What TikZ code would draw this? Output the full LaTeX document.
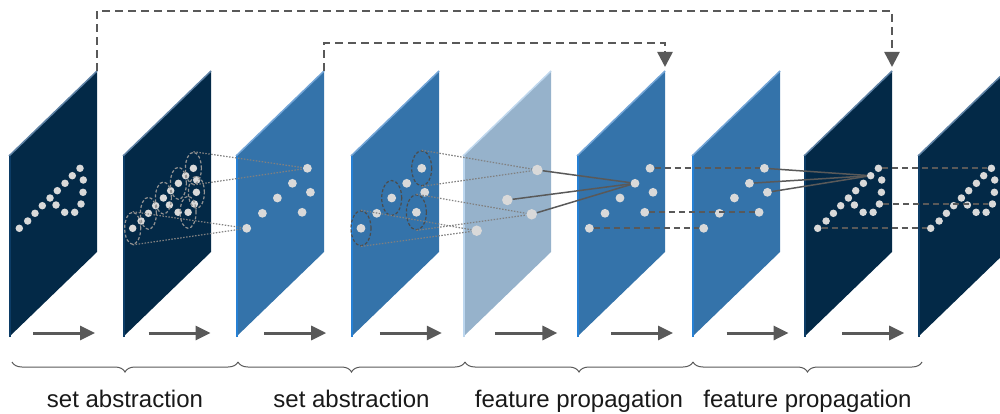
\documentclass[tikz,border=0pt]{standalone}
\usepackage{fontspec}
\setmainfont{Liberation Sans}
\usetikzlibrary{positioning}
\usetikzlibrary{arrows.meta}
\usetikzlibrary{shapes.geometric}
\usetikzlibrary{decorations.pathreplacing}
\definecolor{navy}{RGB}{3,41,71}
\definecolor{navyedge}{RGB}{12,60,102}
\definecolor{navytop}{RGB}{95,130,165}
\definecolor{steel}{RGB}{52,115,170}
\definecolor{steeledge}{RGB}{38,128,212}
\definecolor{steeltop}{RGB}{115,165,215}
\definecolor{pale}{RGB}{150,178,203}
\definecolor{paleedge}{RGB}{188,214,238}
\definecolor{paletop}{RGB}{192,216,238}
\definecolor{pointgray}{RGB}{217,217,217}
\definecolor{wiregray}{RGB}{89,89,89}
\tikzset{
  layer/.pic = {
    \fill[#1] (0,156) -- (88,71) -- (88,252) -- (0,337) -- cycle;
    \draw[#1top, line width=1.5pt] (0,156) -- (88,71);
    \draw[#1edge, line width=2pt] (1,156) -- (1,337);
    \coordinate (-tr) at (88,71);
  },
  featpt/.style = {
    circle,
    fill = pointgray,
    inner sep = 0pt,
    minimum size = #1
  },
  fullcloud/.pic = {
    \foreach \px/\py [count=\i from 0] in {0/228.3, 8.4/221, 15.7/213.3,
      23/205.7, 30.7/198, 38/190.7, 45.7/183.3, 53/175.7, 60.7/168.3,
      64/180, 63.7/192.3, 61.7/204, 55.4/212.3, 45.4/212.3, 36.7/205}
      \node[featpt=7.5pt] (-d\i) at (\px,\py) {};
  },
  subcloud/.pic = {
    \foreach \i/\px/\py in {0/0/228.3, 2/15.7/213.3, 4/30.7/198,
      6/45.7/183.3, 8/60.7/168.3, 10/63.7/192.3, 12/55.4/212.3}
      \node[featpt=8.8pt] (-d\i) at (\px,\py) {};
  },
  grp/.style = {
    ellipse,
    draw = #1,
    line width = 1.2pt,
    dash pattern = on 3pt off 2pt,
    inner sep = 0pt,
    minimum width = 16pt,
    minimum height = 32pt
  },
  gather/.style = {
    line width = 1.2pt,
    color = gray,
    dash pattern = on 1.5pt off 1.5pt
  },
  interp/.style = {
    line width = 1.5pt,
    color = wiregray
  },
  skiplink/.style = {
    line width = 1.7pt,
    color = wiregray,
    dash pattern = on 6pt off 4pt
  },
  shortcut/.style = {
    -{Triangle[length=15pt,width=15pt]},
    line width = 2.5pt,
    color = wiregray,
    dash pattern = on 8pt off 5pt,
    shorten > = 4pt
  },
  flow/.style = {
    -{Triangle[length=15pt,width=14pt]},
    line width = 3pt,
    color = wiregray
  },
  bracket/.style = {
    decorate,
    decoration = {brace, mirror, amplitude=10pt},
    line width = 1pt,
    color = wiregray
  },
  caption/.style = {
    font = \fontsize{24pt}{28pt}\selectfont,
    inner sep = 0pt,
    text = black!90
  }
}
\begin{document}
\begin{tikzpicture}[x=1pt,y=-1pt]
  \useasboundingbox (0,0) rectangle (1000,414);
  \clip (0,0) rectangle (1000,414);

  \pic (L1) at (9,0) {layer=navy};
  \pic (L2) at (123,0) {layer=navy};
  \pic (L3) at (236,0) {layer=steel};
  \pic (L4) at (351,0) {layer=steel};
  \pic (L5) at (463,0) {layer=pale};
  \pic (L6) at (577,0) {layer=steel};
  \pic (L7) at (692,0) {layer=steel};
  \pic (L8) at (804,0) {layer=navy};
  \pic (L9) at (918,0) {layer=navy};

  \pic (D1) at (19.3,0) {fullcloud};
  \pic (D2) at (132.7,0) {fullcloud};
  \pic (D3) at (246.7,0) {subcloud};
  \pic (D4) at (361,0) {subcloud};
  \node[featpt=10.5pt] (D5-d0) at (476.7,230.7) {};
  \node[featpt=10.5pt] (D5-d4) at (507.3,200) {};
  \node[featpt=10.5pt] (D5-d12) at (531.7,214.3) {};
  \node[featpt=10.5pt] (D5-d8) at (537.3,170) {};
  \pic (D6) at (589.3,0) {subcloud};
  \pic (D7) at (703.7,0) {subcloud};
  \pic (D8) at (817.7,0) {fullcloud};
  \pic (D9) at (930.7,0) {fullcloud};

  \foreach \i in {0,2,...,12}
    \node[grp=gray!85] (g2-\i) at (D2-d\i) {};
  \foreach \i in {0,4,8,12}
    \node[grp=black!70, minimum width=20pt, minimum height=35pt] (g4-\i) at (D4-d\i) {};

  \draw[gather] (g2-8.north) -- (D3-d8);
  \draw[gather] (g2-8.south) -- (D3-d8);
  \draw[gather] (g2-0.north) -- (D3-d0);
  \draw[gather] (g2-0.south) -- (D3-d0);
  \draw[gather] (g4-8.north) -- (D5-d8);
  \draw[gather] (g4-8.south) -- (D5-d8);
  \draw[gather] (g4-12.north) -- (D5-d12);
  \draw[gather] (g4-12.south) -- (D5-d12);
  \draw[gather] (g4-0.north) -- (D5-d0);
  \draw[gather] (g4-0.south) -- (D5-d0);

  \foreach \s in {8,4,12}
    \draw[interp] (D5-d\s) -- (D6-d6);
  \foreach \s in {8,6,10}
    \draw[interp] (D7-d\s) -- (D8-d7);
  \foreach \s in {8,12,0}
    \draw[skiplink] (D6-d\s) -- (D7-d\s);
  \foreach \s in {8,11,0}
    \draw[skiplink] (D8-d\s) -- (D9-d\s);

  \draw[shortcut] (L1-tr) -- ++(0,-60) -| (L8-tr);
  \draw[shortcut] (L3-tr) -- ++(0,-28) -| (L6-tr);

  \foreach \k in {0,...,7} {
    \coordinate (fs\k) at (33+115.6*\k,333);
    \coordinate (fe\k) at (95+115.6*\k,333);
    \draw[flow] (fs\k) -- (fe\k);
  }

  \coordinate (br0) at (12,362);
  \coordinate (br1) at (238,362);
  \coordinate (br2) at (465,362);
  \coordinate (br3) at (693,362);
  \coordinate (br4) at (922,362);
  \draw[bracket] (br0) -- (br1);
  \draw[bracket] (br1) -- (br2);
  \draw[bracket] (br2) -- (br3);
  \draw[bracket] (br3) -- (br4);
  \path (br0) -- node[caption, below=28pt] (sa1) {set abstraction} (br1);
  \path (br1) -- node[caption, below=28pt] (sa2) {set abstraction} (br2);
  \path (br2) -- node[caption, below=28pt] (fp1) {feature propagation} (br3);
  \path (br3) -- node[caption, below=28pt] (fp2) {feature propagation} (br4);
\end{tikzpicture}
\end{document}
